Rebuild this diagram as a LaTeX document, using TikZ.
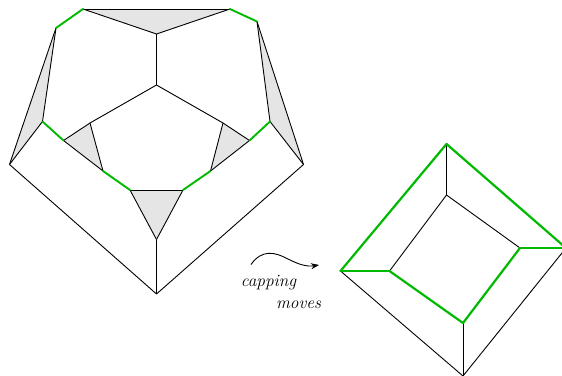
\documentclass[tikz,border=0pt]{standalone}
\usetikzlibrary{arrows.meta}
\definecolor{capgreen}{RGB}{0,185,0}
\tikzset{
  edge/.style={draw=black,line width=0.9pt,line join=round},
  greenedge/.style={draw=capgreen,line width=1.9pt,line cap=round},
  greenthin/.style={draw=capgreen,line width=2.2pt,line cap=round},
  face/.style={fill=black!10,draw=none},
  lab/.style={font=\fontsize{17.3}{19}\selectfont\itshape,inner sep=0pt},
}
\begin{document}
\begin{tikzpicture}[x=1pt,y=-1pt]
\useasboundingbox (0,0) rectangle (562,375);
% left graph vertices
\coordinate (A) at (83,9);
\coordinate (B) at (230,9);
\coordinate (C) at (156.5,34);
\coordinate (D) at (156.5,85);
\coordinate (E) at (56,28);
\coordinate (F) at (257,21.5);
\coordinate (G) at (42.5,121.5);
\coordinate (H) at (270,121.5);
\coordinate (I) at (9.5,164.5);
\coordinate (J) at (303.5,164.5);
\coordinate (K) at (63.5,140.5);
\coordinate (L) at (249.5,140.5);
\coordinate (M) at (90,123);
\coordinate (N) at (223,123);
\coordinate (O) at (103,171);
\coordinate (P) at (210.5,171);
\coordinate (Q) at (130,190);
\coordinate (R) at (183,190);
\coordinate (S) at (156.5,239.5);
\coordinate (T) at (156.5,294);
% filled faces
\fill[face] (A)--(B)--(C)--cycle;
\fill[face] (E)--(G)--(I)--cycle;
\fill[face] (F)--(H)--(J)--cycle;
\fill[face] (K)--(M)--(O)--cycle;
\fill[face] (L)--(N)--(P)--cycle;
\fill[face] (Q)--(R)--(S)--cycle;
% black edges
\draw[edge] (A)--(B);
\draw[edge] (A)--(C);
\draw[edge] (B)--(C);
\draw[edge] (C)--(D);
\draw[edge] (D)--(M);
\draw[edge] (D)--(N);
\draw[edge] (E)--(G);
\draw[edge] (E)--(I);
\draw[edge] (G)--(I);
\draw[edge] (F)--(H);
\draw[edge] (F)--(J);
\draw[edge] (H)--(J);
\draw[edge] (K)--(M);
\draw[edge] (M)--(O);
\draw[edge] (K)--(O);
\draw[edge] (L)--(N);
\draw[edge] (N)--(P);
\draw[edge] (L)--(P);
\draw[edge] (Q)--(R);
\draw[edge] (Q)--(S);
\draw[edge] (R)--(S);
\draw[edge] (S)--(T);
\draw[edge] (I)--(T);
\draw[edge] (J)--(T);
% green edges
\draw[greenedge] (E)--(A);
\draw[greenedge] (B)--(F);
\draw[greenedge] (G)--(K);
\draw[greenedge] (H)--(L);
\draw[greenedge] (O)--(Q);
\draw[greenedge] (P)--(R);
% right graph
\coordinate (U) at (446.5,144);
\coordinate (V) at (340.5,271);
\coordinate (W) at (463,376);
\coordinate (X) at (566,248);
\coordinate (Y) at (446.5,195);
\coordinate (Z) at (389.5,271);
\coordinate (a) at (463,323);
\coordinate (b) at (520,248);
\draw[edge] (U)--(Y);
\draw[edge] (Y)--(Z);
\draw[edge] (Y)--(b);
\draw[edge] (a)--(W);
\draw[edge] (V)--(W);
\draw[edge] (W)--(X);
\draw[greenthin] (V)--(U);
\draw[greenthin] (U)--(X);
\draw[greenthin] (V)--(Z);
\draw[greenthin] (Z)--(a);
\draw[greenthin] (a)--(b);
\draw[greenthin] (b)--(X);
% arrow
\coordinate (s) at (251,264.5);
\coordinate (e) at (319,265);
\draw[edge,-{Stealth[length=8pt,width=6pt]}] (s) .. controls (262,249) and (275,252) .. (288,259) .. controls (298,264) and (306,267) .. (e);
\node[lab] (capping) at (268.5,282.5) {capping};
\node[lab] (moves) at (298.5,305) {moves};
\end{tikzpicture}
\end{document}
